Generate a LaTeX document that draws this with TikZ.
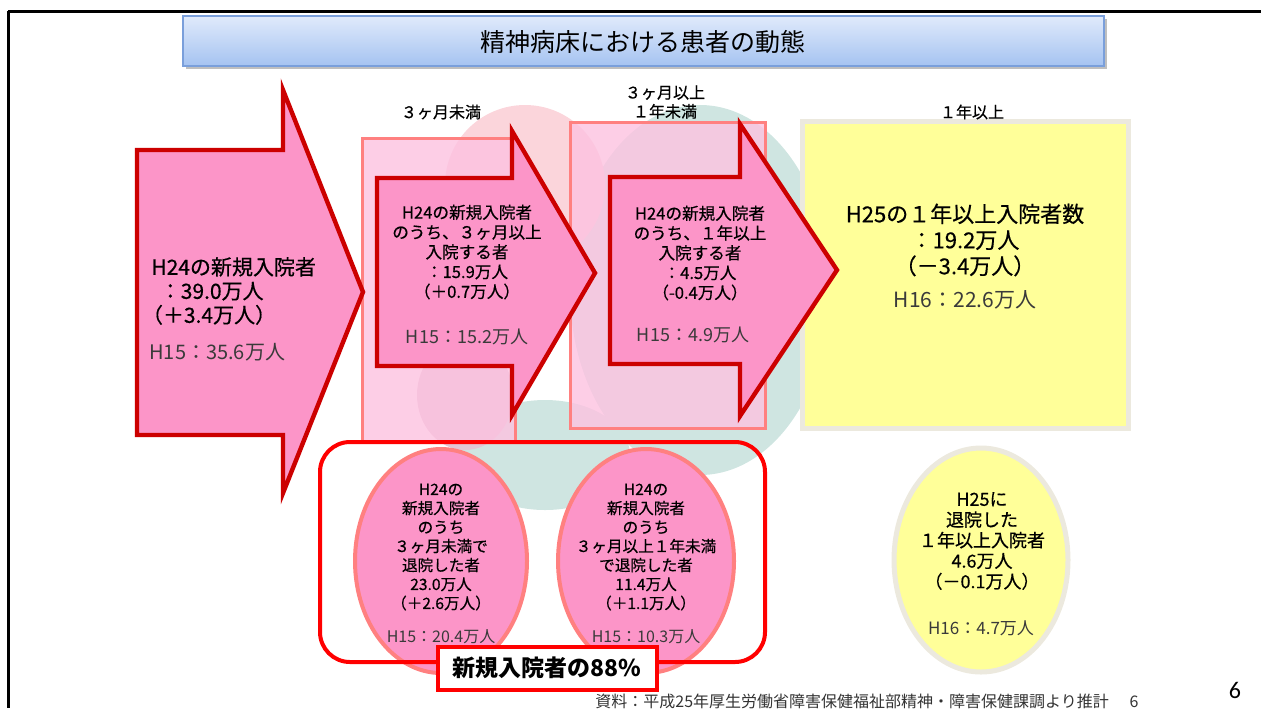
\documentclass[tikz,border=0pt]{standalone}
\usepackage{fontspec}
\setmainfont{Noto Sans CJK JP}[UprightFeatures={FakeBold=0.5}]
\newfontfamily\notefont{Noto Sans CJK JP}
\newfontfamily\pagefont{Carlito}

\definecolor{arrowpink}{HTML}{FC95C8}
\definecolor{arrowred}{HTML}{CC0000}
\definecolor{boxpink}{HTML}{FDC2E0}
\definecolor{boxedge}{HTML}{FF8080}
\definecolor{notegray}{HTML}{3A3A3A}
\definecolor{paleyellow}{HTML}{FFFF99}
\definecolor{yellowedge}{HTML}{ECE9DE}
\definecolor{titletop}{HTML}{E0EAFB}
\definecolor{titlebottom}{HTML}{A5C3F1}
\definecolor{titleedge}{HTML}{7A9FDB}
\definecolor{markteal}{HTML}{CFE5E1}
\definecolor{markpink}{HTML}{FBD5DB}
\definecolor{markmauve}{HTML}{E2C6D5}

\tikzset{
	blockarrow/.style={fill=arrowpink, draw=arrowred, line width=2.2pt},
	stagebox/.style={fill=boxpink, fill opacity=0.8, draw=boxedge, line width=1.5pt},
	outoval/.style={fill=arrowpink, draw=boxedge, line width=2pt},
	bigtext/.style={inner sep=0pt, font=\fontsize{10.5}{12}\selectfont},
	midtext/.style={inner sep=0pt, align=center, font=\fontsize{8.3}{9.9}\selectfont},
	ovaltext/.style={inner sep=0pt, align=center, font=\fontsize{7.8}{9.5}\selectfont},
	note/.style={inner sep=0pt, text=notegray},
	stagelabel/.style={inner sep=0pt, align=center, font=\fontsize{8}{9.5}\selectfont},
}

\begin{document}
\begin{tikzpicture}[x=0.5pt, y=-0.5pt]
	%%%%% START %%%%%
	\useasboundingbox (0, 0) rectangle (1261, 708);
	
	% page frame
	\draw[line width=1.5pt] (8, 11) -- (1261, 11);
	\draw[line width=1.5pt] (8, 11) -- (8, 708);
	
	% title bar
	\fill[black!25] (186, 19) rectangle (1107, 69);
	\shade[top color=titletop, bottom color=titlebottom, draw=titleedge, line width=0.8pt] (183, 16) rectangle (1104, 66);
	\node[inner sep=0pt, font=\notefont\fontsize{12.5}{14}\selectfont] (title) at (643, 42) {精神病床における患者の動態};
	
	% faint logo behind the stages
	\fill[markteal] (700, 290) ellipse [x radius=130, y radius=185];
	\fill[markteal] (545, 455) ellipse [x radius=85, y radius=55];
	\fill[markpink] (525, 185) circle (80);
	\fill[markmauve] (465, 395) ellipse [x radius=48, y radius=55];
	
	% stage columns
	\draw[stagebox] (362, 138) rectangle (515, 442);
	\draw[stagebox] (570, 122) rectangle (765, 428);
	\draw[fill=paleyellow, draw=yellowedge, line width=2.5pt] (802, 121) rectangle (1128, 428);
	
	\node[stagelabel] (lab3m) at (441, 112) {３ヶ月未満};
	\node[stagelabel] (lab1y) at (665, 102) {３ヶ月以上\\１年未満};
	\node[stagelabel] (labover) at (972, 112) {１年以上};
	
	% flow arrows
	\draw[blockarrow] (137, 150) -- (283, 150) -- (283, 90) -- (363, 292) -- (283, 493) -- (283, 435) -- (137, 435) -- cycle;
	\draw[blockarrow] (377, 178) -- (512, 178) -- (512, 131) -- (595, 273) -- (512, 415) -- (512, 366) -- (377, 366) -- cycle;
	\draw[blockarrow] (610, 177) -- (740, 177) -- (740, 124) -- (837, 270) -- (740, 416) -- (740, 364) -- (610, 364) -- cycle;
	
	\node[bigtext, align=left, anchor=west] (newin) at (151, 291) {H24の新規入院者\\\hspace{0.4em}：39.0万人\\\hspace{-0.45em}（＋3.4万人）};
	\node[note, anchor=west, font=\notefont\fontsize{10}{11}\selectfont] (newold) at (149, 352) {H15：35.6万人};
	
	\node[midtext] (stay3m) at (467, 252) {H24の新規入院者\\のうち、３ヶ月以上\\入院する者\\：15.9万人\\（＋0.7万人）};
	\node[note, font=\notefont\fontsize{9}{10}\selectfont] (stay3mold) at (467, 337) {H15：15.2万人};
	
	\node[midtext] (stay1y) at (700, 253) {H24の新規入院者\\のうち、１年以上\\入院する者\\：4.5万人\\（-0.4万人）};
	\node[note, font=\notefont\fontsize{9}{10}\selectfont] (stay1yold) at (693, 335) {H15：4.9万人};
	
	\node[inner sep=0pt, align=center, font=\fontsize{11}{13}\selectfont] (longstay) at (965, 240) {H25の１年以上入院者数\\：19.2万人\\（－3.4万人）};
	\node[note, font=\notefont\fontsize{10.5}{12}\selectfont] (longold) at (965, 300) {H16：22.6万人};
	
	% discharges
	\draw[outoval] (441, 561) ellipse [x radius=86, y radius=112];
	\draw[outoval] (646, 561) ellipse [x radius=88, y radius=112];
	\draw[fill=paleyellow, draw=yellowedge, line width=2.5pt] (981, 560) ellipse [x radius=87, y radius=112];
	
	\draw[red, line width=2pt, rounded corners=15pt] (320, 442) rectangle (765, 662);
	
	\node[ovaltext] (out3m) at (441, 547) {H24の\\新規入院者\\のうち\\３ヶ月未満で\\退院した者\\23.0万人\\（＋2.6万人）};
	\node[note, font=\notefont\fontsize{8}{9}\selectfont] (out3mold) at (441, 637) {H15：20.4万人};
	
	\node[ovaltext] (out1y) at (646, 547) {H24の\\新規入院者\\のうち\\３ヶ月以上１年未満\\で退院した者\\11.4万人\\（＋1.1万人）};
	\node[note, font=\notefont\fontsize{8}{9}\selectfont] (out1yold) at (646, 637) {H15：10.3万人};
	
	\node[inner sep=0pt, align=center, font=\fontsize{9}{10.3}\selectfont] (outlong) at (982, 541) {H25に\\退院した\\１年以上入院者\\4.6万人\\（－0.1万人）};
	\node[note, font=\notefont\fontsize{8.5}{9.5}\selectfont] (outlongold) at (981, 628) {H16：4.7万人};
	
	\draw[fill=white, draw=red, line width=2pt] (438, 647) rectangle (657, 690);
	\node[inner sep=0pt, font=\bfseries\fontsize{11.5}{13}\selectfont] (share) at (547, 668) {新規入院者の88\%};
	
	% source and page number
	\node[inner sep=0pt, anchor=west, text=black!80, font=\notefont\fontsize{8}{9}\selectfont] (source) at (595, 701) {資料：平成25年厚生労働省障害保健福祉部精神・障害保健課調より推計\hspace{1.3em}6};
	\node[inner sep=0pt, font=\pagefont\fontsize{12}{14}\selectfont] (pageno) at (1235, 690) {6};
	%%%%% END %%%%%
\end{tikzpicture}
\end{document}
